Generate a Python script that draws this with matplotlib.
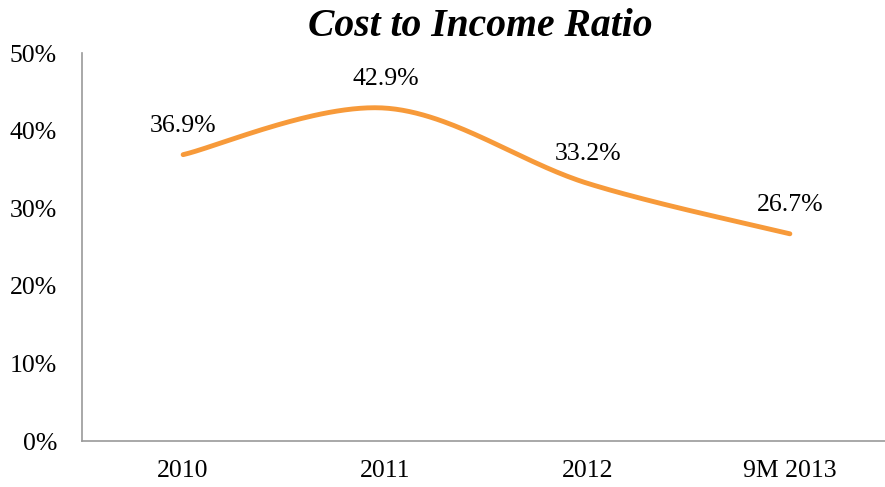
import numpy as np
import matplotlib.pyplot as plt

categories = ["2010", "2011", "2012", "9M 2013"]
ratio = [36.9, 42.9, 33.2, 26.7]
labels = ["36.9%", "42.9%", "33.2%", "26.7%"]
yticks = [0, 10, 20, 30, 40, 50]

plt.rcParams['font.family'] = ['Liberation Serif', 'DejaVu Serif']

fig = plt.figure(figsize=(8.85, 4.87), dpi=100)
ax = fig.add_axes([82/885, 1 - 441/487, (891-82)/885, (441-53)/487])

# smoothed line like excel (bezier, catmull-rom control points)
x = np.arange(len(ratio), dtype=float)
y = np.array(ratio, dtype=float)
px = np.concatenate([[x[0]], x, [x[-1]]])
py = np.concatenate([[y[0]], y, [y[-1]]])
t = np.linspace(0, 1, 60)
cx, cy = [], []
for i in range(len(x) - 1):
    p0 = np.array([px[i], py[i]])
    p1 = np.array([px[i+1], py[i+1]])
    p2 = np.array([px[i+2], py[i+2]])
    p3 = np.array([px[i+3], py[i+3]])
    c1 = p1 + (p2 - p0) / 6
    c2 = p2 - (p3 - p1) / 6
    pts = ((1-t)**3)[:, None]*p1 + (3*(1-t)**2*t)[:, None]*c1 + (3*(1-t)*t**2)[:, None]*c2 + (t**3)[:, None]*p2
    cx.extend(pts[:, 0]); cy.extend(pts[:, 1])

ax.plot(cx, cy, color='#F79A3A', lw=3.5, solid_capstyle='round')

for xi, yi, lab in zip(x, y, labels):
    ax.annotate(lab, (xi, yi), xytext=(0, 13), textcoords='offset points',
                ha='center', va='bottom', fontsize=18.5)

ax.set_xlim(-0.5, len(ratio) - 0.5)
ax.set_ylim(0, 50)
ax.set_xticks(x)
ax.set_xticklabels(categories, fontsize=18.5)
ax.set_yticks(yticks)
ax.set_yticklabels([f"{v}%" for v in yticks], fontsize=18.5)
ax.tick_params(length=0, pad=14)
ax.tick_params(axis='y', pad=18)
for s in ['top', 'right']:
    ax.spines[s].set_visible(False)
for s in ['left', 'bottom']:
    ax.spines[s].set_color('#999999')
    ax.spines[s].set_linewidth(1.2)
ax.spines['bottom'].set_bounds(-0.5, 3.47)

fig.text(0.543, 0.945, "Cost to Income Ratio", ha='center', va='center',
         fontsize=28.5, fontweight='bold', fontstyle='italic')

fig.savefig("out.png", dpi=100)
